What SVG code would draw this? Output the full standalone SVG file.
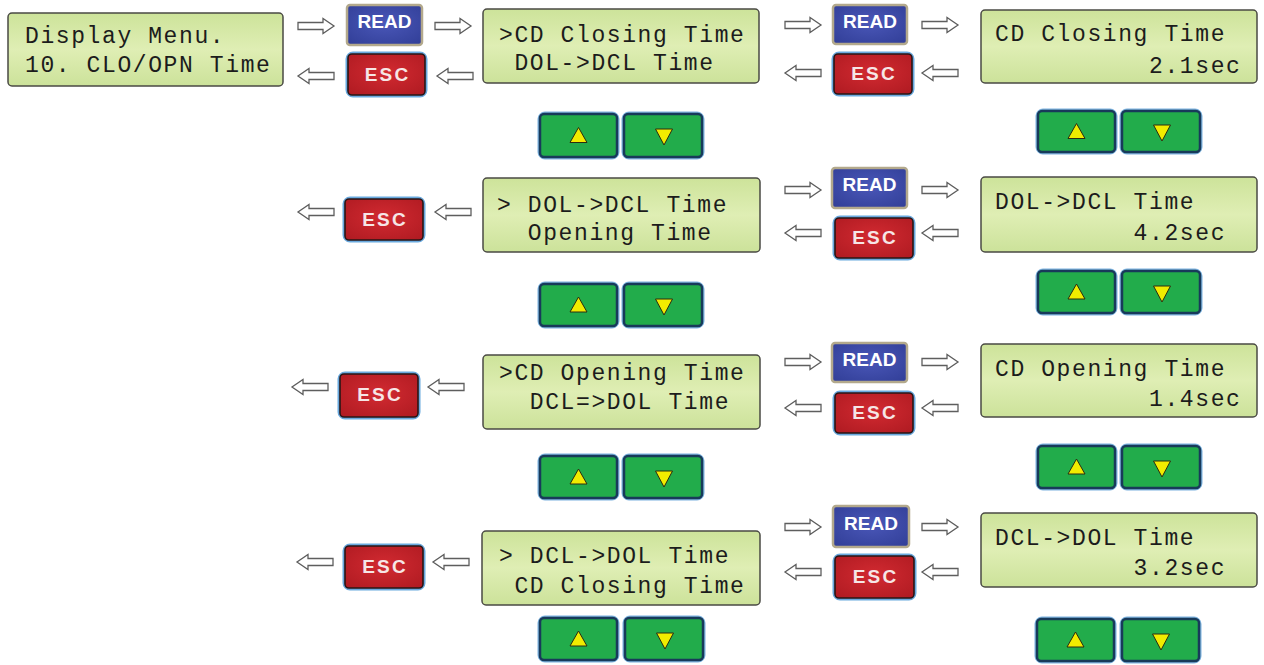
<svg xmlns="http://www.w3.org/2000/svg" width="1264" height="665" viewBox="0 0 1264 665">
<defs>
<linearGradient id="lcdg" x1="0" y1="0" x2="0" y2="1">
<stop offset="0" stop-color="#cde39a"/>
<stop offset="0.5" stop-color="#dfeeb4"/>
<stop offset="1" stop-color="#cce29a"/>
</linearGradient>
<radialGradient id="readg" cx="0.5" cy="0.45" r="0.7">
<stop offset="0" stop-color="#4a57b8"/>
<stop offset="1" stop-color="#323f98"/>
</radialGradient>
<radialGradient id="escg" cx="0.5" cy="0.45" r="0.7">
<stop offset="0" stop-color="#d22a31"/>
<stop offset="1" stop-color="#b01b22"/>
</radialGradient>
<path id="ar" d="M0,-3.5 H25 V-7.5 L36,0 L25,7.5 V3.5 H0 Z"/>
<path id="al" d="M36,-3.5 H11 V-7.5 L0,0 L11,7.5 V3.5 H36 Z"/>
<path id="tu" d="M0,-8 L8.5,7 H-8.5 Z"/>
<path id="td" d="M0,9 L8.5,-7 H-8.5 Z"/>
</defs>
<style>
.lcd{fill:url(#lcdg);stroke:#4a4a44;stroke-width:1.5}
.lt{font-family:"Liberation Mono","DejaVu Sans Mono",monospace;font-size:23px;letter-spacing:1.6px;fill:#1c1c1c;white-space:pre}
.rd{fill:url(#readg);stroke:#b3a98c;stroke-width:2.5}
.eg{fill:none;stroke:#4f9ad8;stroke-width:5;opacity:0.85}
.es{fill:url(#escg);stroke:#2a1616;stroke-width:1.6}
.bt{font-family:"Liberation Sans",Arial,sans-serif;font-weight:bold;font-size:19px;fill:#ffffff;text-anchor:middle}
.et{font-size:19px;letter-spacing:2.2px;fill:#f6e6e6}
.ng{fill:none;stroke:#5b9fd6;stroke-width:5;opacity:0.8}
.nv{fill:#22ac4b;stroke:#183a5a;stroke-width:2.5}
.tri{fill:#f1ec00;stroke:#2c2c10;stroke-width:1}
.cn use{fill:#ffffff;stroke:#5e5e5e;stroke-width:1.3}
</style>
<rect width="1264" height="665" fill="#ffffff"/>

<g id="connectors" class="cn">
<use href="#ar" x="298" y="26"/>
<use href="#al" x="298" y="76"/>
<use href="#ar" x="435" y="26"/>
<use href="#al" x="437" y="76"/>
<use href="#ar" x="785" y="25"/>
<use href="#al" x="785" y="73"/>
<use href="#ar" x="922" y="25"/>
<use href="#al" x="922" y="73"/>
<use href="#al" x="298" y="212"/>
<use href="#al" x="435" y="212"/>
<use href="#ar" x="785" y="190"/>
<use href="#ar" x="922" y="190"/>
<use href="#al" x="785" y="233"/>
<use href="#al" x="922" y="233"/>
<use href="#al" x="292" y="387"/>
<use href="#al" x="428" y="387"/>
<use href="#ar" x="785" y="362"/>
<use href="#ar" x="922" y="362"/>
<use href="#al" x="785" y="408"/>
<use href="#al" x="922" y="408"/>
<use href="#al" x="297" y="562"/>
<use href="#al" x="433" y="562"/>
<use href="#ar" x="785" y="527"/>
<use href="#ar" x="922" y="527"/>
<use href="#al" x="785" y="572"/>
<use href="#al" x="922" y="572"/>
</g>

<!-- LCD nodes -->
<g id="lcd-display-menu"><rect class="lcd" x="8" y="13" width="275" height="73" rx="4"/>
<text class="lt" x="25" y="43" xml:space="preserve">Display Menu.</text>
<text class="lt" x="25" y="72" xml:space="preserve">10. CLO/OPN Time</text></g>

<g id="lcd-menu-1"><rect class="lcd" x="483" y="9" width="276" height="74" rx="4"/>
<text class="lt" x="499" y="42" xml:space="preserve">&gt;CD Closing Time</text>
<text class="lt" x="499" y="70" xml:space="preserve"> DOL-&gt;DCL Time</text></g>

<g id="lcd-value-1"><rect class="lcd" x="981" y="10" width="276" height="73" rx="4"/>
<text class="lt" x="995" y="41" xml:space="preserve">CD Closing Time</text>
<text class="lt" x="995" y="73" xml:space="preserve">          2.1sec</text></g>

<g id="lcd-menu-2"><rect class="lcd" x="483" y="178" width="277" height="74" rx="4"/>
<text class="lt" x="497" y="212" xml:space="preserve">&gt; DOL-&gt;DCL Time</text>
<text class="lt" x="497" y="240" xml:space="preserve">  Opening Time</text></g>

<g id="lcd-value-2"><rect class="lcd" x="981" y="177" width="276" height="75" rx="4"/>
<text class="lt" x="995" y="209" xml:space="preserve">DOL-&gt;DCL Time</text>
<text class="lt" x="995" y="240" xml:space="preserve">         4.2sec</text></g>

<g id="lcd-menu-3"><rect class="lcd" x="483" y="355" width="277" height="74" rx="4"/>
<text class="lt" x="499" y="380" xml:space="preserve">&gt;CD Opening Time</text>
<text class="lt" x="499" y="409" xml:space="preserve">  DCL=&gt;DOL Time</text></g>

<g id="lcd-value-3"><rect class="lcd" x="981" y="344" width="276" height="73" rx="4"/>
<text class="lt" x="995" y="376" xml:space="preserve">CD Opening Time</text>
<text class="lt" x="995" y="406" xml:space="preserve">          1.4sec</text></g>

<g id="lcd-menu-4"><rect class="lcd" x="482" y="531" width="278" height="74" rx="4"/>
<text class="lt" x="499" y="563" xml:space="preserve">&gt; DCL-&gt;DOL Time</text>
<text class="lt" x="499" y="593" xml:space="preserve"> CD Closing Time</text></g>

<g id="lcd-value-4"><rect class="lcd" x="981" y="513" width="276" height="74" rx="4"/>
<text class="lt" x="995" y="545" xml:space="preserve">DCL-&gt;DOL Time</text>
<text class="lt" x="995" y="575" xml:space="preserve">         3.2sec</text></g>

<!-- READ buttons -->
<g id="read-1"><rect class="rd" x="347" y="5" width="75" height="40" rx="3"/><text class="bt" x="384.5" y="28">READ</text></g>
<g id="read-2"><rect class="rd" x="833" y="5" width="74" height="39" rx="3"/><text class="bt" x="870" y="28">READ</text></g>
<g id="read-3"><rect class="rd" x="832" y="168" width="75" height="40" rx="3"/><text class="bt" x="869.5" y="191">READ</text></g>
<g id="read-4"><rect class="rd" x="832" y="343" width="75" height="39" rx="3"/><text class="bt" x="869.5" y="366">READ</text></g>
<g id="read-5"><rect class="rd" x="833" y="506" width="76" height="41" rx="3"/><text class="bt" x="871" y="530">READ</text></g>

<!-- ESC buttons -->
<g id="esc-1"><rect class="eg" x="348" y="54" width="77" height="41" rx="5"/><rect class="es" x="348" y="54" width="77" height="41" rx="4"/><text class="bt et" x="387.5" y="81">ESC</text></g>
<g id="esc-2"><rect class="eg" x="834" y="54" width="78" height="40" rx="5"/><rect class="es" x="834" y="54" width="78" height="40" rx="4"/><text class="bt et" x="874" y="80">ESC</text></g>
<g id="esc-3"><rect class="eg" x="345" y="199" width="78" height="41" rx="5"/><rect class="es" x="345" y="199" width="78" height="41" rx="4"/><text class="bt et" x="385" y="226">ESC</text></g>
<g id="esc-4"><rect class="eg" x="835" y="218" width="78" height="40" rx="5"/><rect class="es" x="835" y="218" width="78" height="40" rx="4"/><text class="bt et" x="875" y="244">ESC</text></g>
<g id="esc-5"><rect class="eg" x="340" y="374" width="78" height="43" rx="5"/><rect class="es" x="340" y="374" width="78" height="43" rx="4"/><text class="bt et" x="380" y="401">ESC</text></g>
<g id="esc-6"><rect class="eg" x="835" y="393" width="78" height="40" rx="5"/><rect class="es" x="835" y="393" width="78" height="40" rx="4"/><text class="bt et" x="875" y="419">ESC</text></g>
<g id="esc-7"><rect class="eg" x="345" y="546" width="78" height="42" rx="5"/><rect class="es" x="345" y="546" width="78" height="42" rx="4"/><text class="bt et" x="385" y="573">ESC</text></g>
<g id="esc-8"><rect class="eg" x="835" y="556" width="79" height="42" rx="5"/><rect class="es" x="835" y="556" width="79" height="42" rx="4"/><text class="bt et" x="875.5" y="583">ESC</text></g>

<!-- Up / Down buttons -->
<g id="nav-1a"><rect class="ng" x="540" y="114" width="77" height="43" rx="5"/><rect class="nv" x="540" y="114" width="77" height="43" rx="4"/><use class="tri" href="#tu" x="578.5" y="135.5"/></g>
<g id="nav-1b"><rect class="ng" x="624" y="114" width="78" height="43" rx="5"/><rect class="nv" x="624" y="114" width="78" height="43" rx="4"/><use class="tri" href="#td" x="664" y="136"/></g>
<g id="nav-2a"><rect class="ng" x="1038" y="111" width="77" height="41" rx="5"/><rect class="nv" x="1038" y="111" width="77" height="41" rx="4"/><use class="tri" href="#tu" x="1076.5" y="131.5"/></g>
<g id="nav-2b"><rect class="ng" x="1122" y="111" width="78" height="41" rx="5"/><rect class="nv" x="1122" y="111" width="78" height="41" rx="4"/><use class="tri" href="#td" x="1162" y="132"/></g>
<g id="nav-3a"><rect class="ng" x="540" y="284" width="77" height="42" rx="5"/><rect class="nv" x="540" y="284" width="77" height="42" rx="4"/><use class="tri" href="#tu" x="578.5" y="305"/></g>
<g id="nav-3b"><rect class="ng" x="624" y="284" width="78" height="42" rx="5"/><rect class="nv" x="624" y="284" width="78" height="42" rx="4"/><use class="tri" href="#td" x="664" y="306"/></g>
<g id="nav-4a"><rect class="ng" x="1038" y="271" width="77" height="42" rx="5"/><rect class="nv" x="1038" y="271" width="77" height="42" rx="4"/><use class="tri" href="#tu" x="1076.5" y="292"/></g>
<g id="nav-4b"><rect class="ng" x="1122" y="271" width="78" height="42" rx="5"/><rect class="nv" x="1122" y="271" width="78" height="42" rx="4"/><use class="tri" href="#td" x="1162" y="293"/></g>
<g id="nav-5a"><rect class="ng" x="540" y="456" width="77" height="42" rx="5"/><rect class="nv" x="540" y="456" width="77" height="42" rx="4"/><use class="tri" href="#tu" x="578.5" y="477"/></g>
<g id="nav-5b"><rect class="ng" x="624" y="456" width="78" height="42" rx="5"/><rect class="nv" x="624" y="456" width="78" height="42" rx="4"/><use class="tri" href="#td" x="664" y="478"/></g>
<g id="nav-6a"><rect class="ng" x="1038" y="446" width="77" height="42" rx="5"/><rect class="nv" x="1038" y="446" width="77" height="42" rx="4"/><use class="tri" href="#tu" x="1076.5" y="467"/></g>
<g id="nav-6b"><rect class="ng" x="1122" y="446" width="78" height="42" rx="5"/><rect class="nv" x="1122" y="446" width="78" height="42" rx="4"/><use class="tri" href="#td" x="1162" y="468"/></g>
<g id="nav-7a"><rect class="ng" x="540" y="618" width="77" height="42" rx="5"/><rect class="nv" x="540" y="618" width="77" height="42" rx="4"/><use class="tri" href="#tu" x="578.5" y="639"/></g>
<g id="nav-7b"><rect class="ng" x="625" y="618" width="78" height="42" rx="5"/><rect class="nv" x="625" y="618" width="78" height="42" rx="4"/><use class="tri" href="#td" x="665" y="640"/></g>
<g id="nav-8a"><rect class="ng" x="1037" y="619" width="77" height="42" rx="5"/><rect class="nv" x="1037" y="619" width="77" height="42" rx="4"/><use class="tri" href="#tu" x="1075.5" y="640"/></g>
<g id="nav-8b"><rect class="ng" x="1122" y="619" width="77" height="42" rx="5"/><rect class="nv" x="1122" y="619" width="77" height="42" rx="4"/><use class="tri" href="#td" x="1161" y="641"/></g>
</svg>
